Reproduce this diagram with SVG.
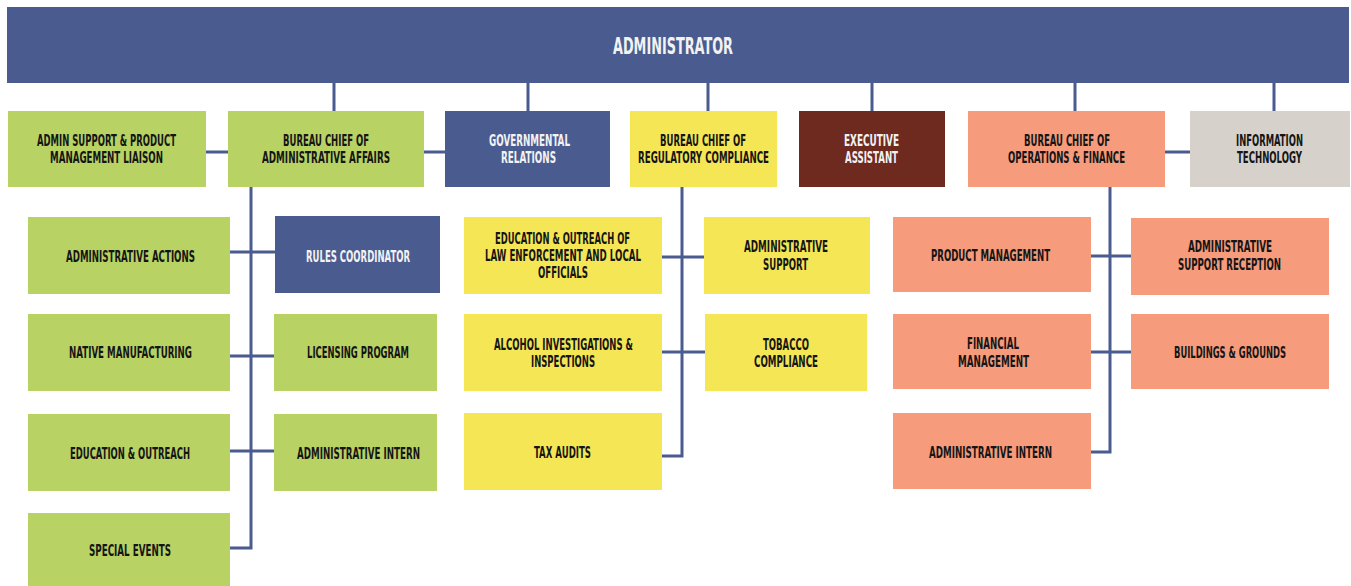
<svg xmlns="http://www.w3.org/2000/svg" width="1351" height="586" viewBox="0 0 1351 586">
<style>
text{font-family:"Liberation Sans Narrow","DejaVu Sans Condensed","Liberation Sans",sans-serif;font-weight:bold;font-size:16px;fill:#151515}
text.w{fill:#f2f2f2}
.g{fill:#b8d264}.b{fill:#4a5b8f}.y{fill:#f5e655}.r{fill:#6e2a1f}.s{fill:#f69b7b}.k{fill:#d6d2cb}
#connectors path{fill:none;stroke:#4a5b8f;stroke-width:3}
</style>
<rect width="1351" height="586" fill="#ffffff"/>
<g id="connectors">
<path d="M334,83V111M528,83V111M708,83V111M872,83V111M1075,83V111M1274,83V111"/>
<path d="M206,152H228M424,152H445M1165,152H1190"/>
<path d="M251,187V548H230M230,252H275M230,356H274M230,451H274"/>
<path d="M682,187V456H662M662,257H704M662,352H705"/>
<path d="M1110,187V452H1091M1091,256H1131M1091,352H1131"/>
</g>
<g id="administrator"><rect class="b" x="7" y="7" width="1342" height="76"/><text class="w" x="613" y="54" textLength="120" lengthAdjust="spacingAndGlyphs" style="font-size:23px">ADMINISTRATOR</text></g>
<g id="admin-support"><rect class="g" x="8" y="111" width="198" height="76"/><text x="37" y="146" textLength="139" lengthAdjust="spacingAndGlyphs">ADMIN SUPPORT &amp; PRODUCT</text><text x="50" y="163" textLength="113" lengthAdjust="spacingAndGlyphs">MANAGEMENT LIAISON</text></g>
<g id="bureau-admin"><rect class="g" x="228" y="111" width="196" height="76"/><text x="283" y="146" textLength="86" lengthAdjust="spacingAndGlyphs">BUREAU CHIEF OF</text><text x="262" y="163" textLength="128" lengthAdjust="spacingAndGlyphs">ADMINISTRATIVE AFFAIRS</text></g>
<g id="gov-relations"><rect class="b" x="445" y="111" width="165" height="76"/><text class="w" x="489" y="146" textLength="81" lengthAdjust="spacingAndGlyphs">GOVERNMENTAL</text><text class="w" x="501" y="163" textLength="55" lengthAdjust="spacingAndGlyphs">RELATIONS</text></g>
<g id="bureau-reg"><rect class="y" x="630" y="111" width="147" height="76"/><text x="660" y="146" textLength="86" lengthAdjust="spacingAndGlyphs">BUREAU CHIEF OF</text><text x="638" y="163" textLength="131" lengthAdjust="spacingAndGlyphs">REGULATORY COMPLIANCE</text></g>
<g id="exec-assistant"><rect class="r" x="799" y="111" width="146" height="76"/><text class="w" x="844" y="146" textLength="55" lengthAdjust="spacingAndGlyphs">EXECUTIVE</text><text class="w" x="845" y="163" textLength="53" lengthAdjust="spacingAndGlyphs">ASSISTANT</text></g>
<g id="bureau-ops"><rect class="s" x="968" y="111" width="197" height="76"/><text x="1024" y="146" textLength="86" lengthAdjust="spacingAndGlyphs">BUREAU CHIEF OF</text><text x="1008" y="163" textLength="117" lengthAdjust="spacingAndGlyphs">OPERATIONS &amp; FINANCE</text></g>
<g id="it"><rect class="k" x="1190" y="111" width="160" height="76"/><text x="1236" y="146" textLength="67" lengthAdjust="spacingAndGlyphs">INFORMATION</text><text x="1237" y="163" textLength="65" lengthAdjust="spacingAndGlyphs">TECHNOLOGY</text></g>
<g id="admin-actions"><rect class="g" x="28" y="217" width="202" height="77"/><text x="66" y="262" textLength="129" lengthAdjust="spacingAndGlyphs">ADMINISTRATIVE ACTIONS</text></g>
<g id="native-manufacturing"><rect class="g" x="28" y="314" width="202" height="77"/><text x="69" y="358" textLength="123" lengthAdjust="spacingAndGlyphs">NATIVE MANUFACTURING</text></g>
<g id="education-outreach"><rect class="g" x="28" y="414" width="202" height="77"/><text x="70" y="459" textLength="120" lengthAdjust="spacingAndGlyphs">EDUCATION &amp; OUTREACH</text></g>
<g id="special-events"><rect class="g" x="28" y="513" width="202" height="73"/><text x="89" y="556" textLength="82" lengthAdjust="spacingAndGlyphs">SPECIAL EVENTS</text></g>
<g id="rules-coordinator"><rect class="b" x="275" y="216" width="165" height="77"/><text class="w" x="306" y="262" textLength="104" lengthAdjust="spacingAndGlyphs">RULES COORDINATOR</text></g>
<g id="licensing-program"><rect class="g" x="274" y="314" width="163" height="77"/><text x="307" y="358" textLength="102" lengthAdjust="spacingAndGlyphs">LICENSING PROGRAM</text></g>
<g id="admin-intern-1"><rect class="g" x="274" y="414" width="163" height="77"/><text x="297" y="459" textLength="123" lengthAdjust="spacingAndGlyphs">ADMINISTRATIVE INTERN</text></g>
<g id="edu-law"><rect class="y" x="464" y="217" width="198" height="77"/><text x="495" y="244" textLength="135" lengthAdjust="spacingAndGlyphs">EDUCATION &amp; OUTREACH OF</text><text x="485" y="261" textLength="156" lengthAdjust="spacingAndGlyphs">LAW ENFORCEMENT AND LOCAL</text><text x="538" y="278" textLength="50" lengthAdjust="spacingAndGlyphs">OFFICIALS</text></g>
<g id="alcohol"><rect class="y" x="464" y="314" width="198" height="77"/><text x="494" y="350" textLength="139" lengthAdjust="spacingAndGlyphs">ALCOHOL INVESTIGATIONS &amp;</text><text x="531" y="367" textLength="64" lengthAdjust="spacingAndGlyphs">INSPECTIONS</text></g>
<g id="tax-audits"><rect class="y" x="464" y="413" width="198" height="77"/><text x="534" y="458" textLength="57" lengthAdjust="spacingAndGlyphs">TAX AUDITS</text></g>
<g id="admin-support-reg"><rect class="y" x="704" y="217" width="166" height="77"/><text x="744" y="252" textLength="84" lengthAdjust="spacingAndGlyphs">ADMINISTRATIVE</text><text x="763" y="270" textLength="45" lengthAdjust="spacingAndGlyphs">SUPPORT</text></g>
<g id="tobacco"><rect class="y" x="705" y="314" width="162" height="77"/><text x="763" y="350" textLength="46" lengthAdjust="spacingAndGlyphs">TOBACCO</text><text x="754" y="367" textLength="64" lengthAdjust="spacingAndGlyphs">COMPLIANCE</text></g>
<g id="product-management"><rect class="s" x="893" y="217" width="198" height="75"/><text x="931" y="261" textLength="119" lengthAdjust="spacingAndGlyphs">PRODUCT MANAGEMENT</text></g>
<g id="financial-management"><rect class="s" x="893" y="314" width="198" height="75"/><text x="967" y="349" textLength="52" lengthAdjust="spacingAndGlyphs">FINANCIAL</text><text x="958" y="367" textLength="71" lengthAdjust="spacingAndGlyphs">MANAGEMENT</text></g>
<g id="admin-intern-2"><rect class="s" x="893" y="413" width="198" height="76"/><text x="929" y="458" textLength="123" lengthAdjust="spacingAndGlyphs">ADMINISTRATIVE INTERN</text></g>
<g id="support-reception"><rect class="s" x="1131" y="218" width="198" height="77"/><text x="1188" y="252" textLength="84" lengthAdjust="spacingAndGlyphs">ADMINISTRATIVE</text><text x="1178" y="270" textLength="103" lengthAdjust="spacingAndGlyphs">SUPPORT RECEPTION</text></g>
<g id="buildings-grounds"><rect class="s" x="1131" y="314" width="198" height="75"/><text x="1174" y="358" textLength="112" lengthAdjust="spacingAndGlyphs">BUILDINGS &amp; GROUNDS</text></g>
</svg>
